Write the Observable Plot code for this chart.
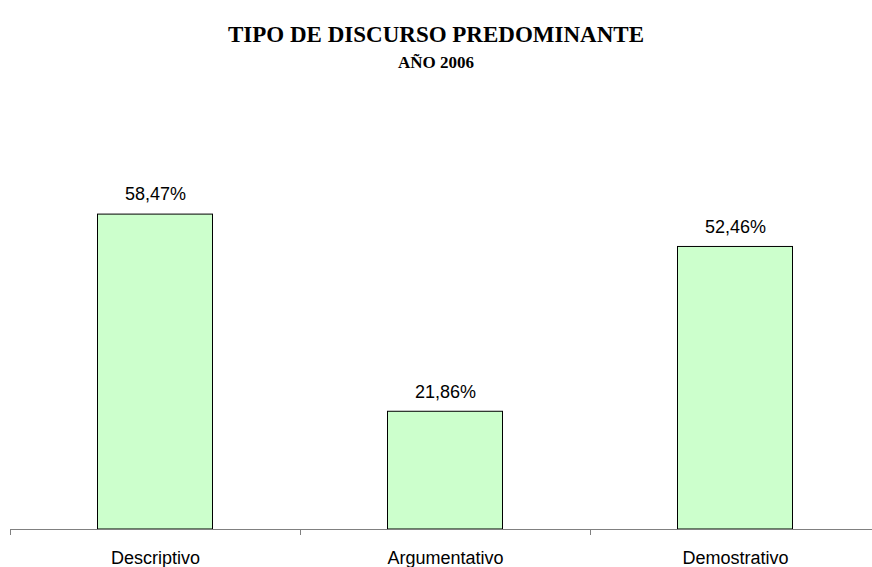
<!DOCTYPE html>
<html><head><meta charset="utf-8">
<script src="https://cdn.jsdelivr.net/npm/d3@7"></script>
<script src="https://cdn.jsdelivr.net/npm/@observablehq/plot@0.6"></script>
<style>
body{margin:0;background:#fff;width:872px;height:567px;overflow:hidden}
#t{position:absolute;top:22px;left:0;width:872px;text-align:center;font:bold 23px "Liberation Serif","Times New Roman",serif;color:#000}
#s{position:absolute;top:53px;left:0;width:872px;text-align:center;font:bold 17px "Liberation Serif","Times New Roman",serif;color:#000}
#c{position:absolute;top:80px;left:0}
</style></head>
<body>
<div id="t">TIPO DE DISCURSO PREDOMINANTE</div>
<div id="s">AÑO 2006</div>
<div id="c"></div>
<script>
const categories = ["Descriptivo", "Argumentativo", "Demostrativo"];
const values = [58.47, 21.86, 52.46];
const valueLabels = ["58,47%", "21,86%", "52,46%"];

const data = categories.map((c, i) => ({c, i, v: values[i], lab: valueLabels[i]}));
const edges = d3.range(categories.length + 1);

const chart = Plot.plot({
  width: 872,
  height: 487,
  marginLeft: 10,
  marginRight: -8,
  marginTop: 72,
  marginBottom: 38,
  x: {type: "linear", domain: [0, categories.length], axis: null},
  y: {domain: [0, 70], axis: null},
  style: {fontFamily: "'Liberation Sans', Arial, sans-serif", fontSize: "18px", background: "#fff"},
  marks: [
    Plot.rectY(data, {x1: d => d.i, x2: d => d.i + 1, y: "v", fill: "#CCFFCC", stroke: "#000", strokeWidth: 1, insetLeft: 87.5, insetRight: 87.5}),
    Plot.ruleY([0], {stroke: "#808080", strokeWidth: 1}),
    Plot.ruleX(edges, {x: d => d, y1: 0, y2: 0, stroke: "#808080", insetBottom: -6}),
    Plot.text(data, {x: d => d.i + 0.5, y: "v", text: "lab", dy: -20, fill: "#000", fontSize: 18}),
    Plot.text(data, {x: d => d.i + 0.5, y: 0, text: "c", dy: 29, fill: "#000", fontSize: 18})
  ]
});
document.getElementById("c").appendChild(chart);
</script>
</body></html>
